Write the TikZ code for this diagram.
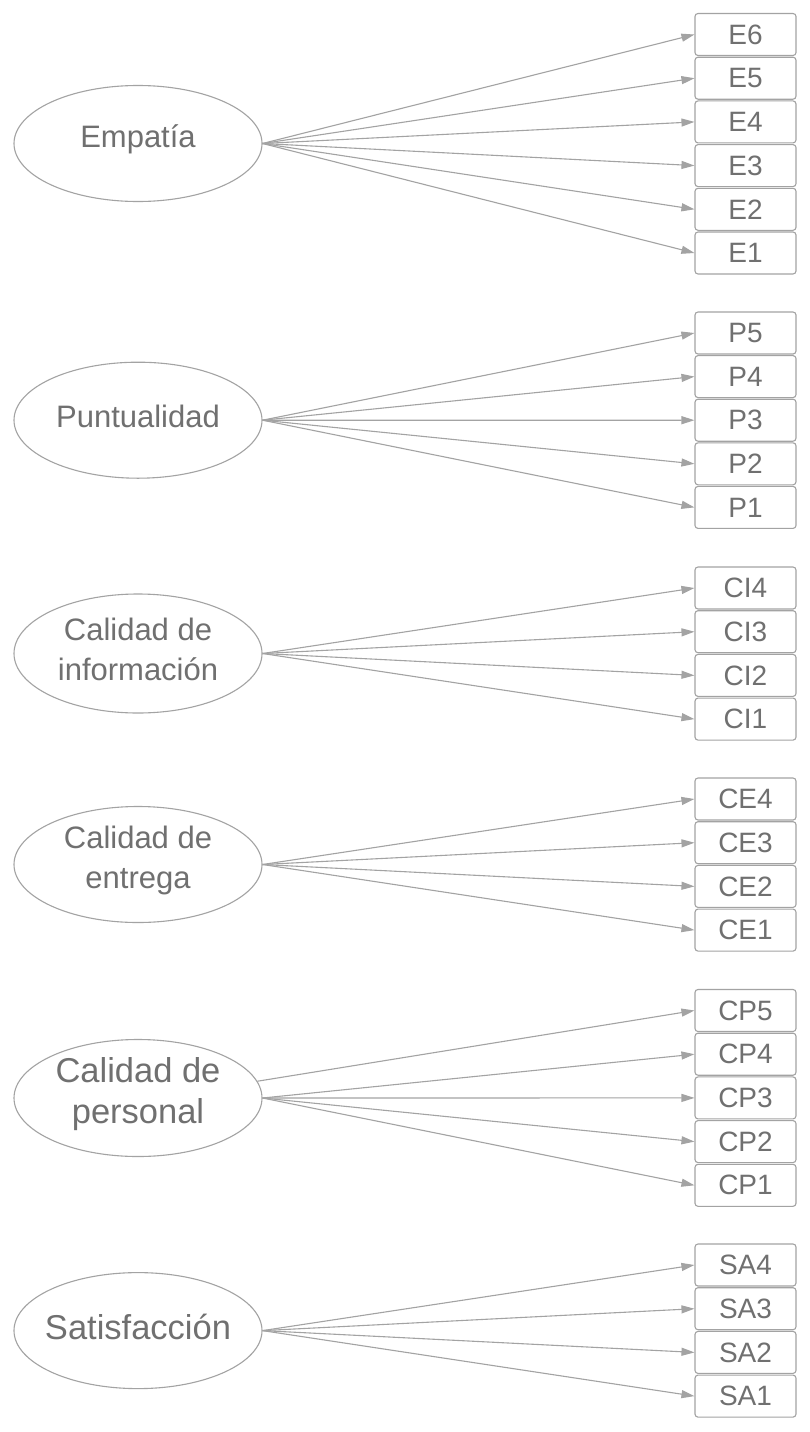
\documentclass[tikz,border=0pt]{standalone}
\usepackage{fontspec}
\setmainfont{Liberation Sans}
\usetikzlibrary{shapes.geometric,arrows.meta}
\definecolor{txt}{HTML}{707070}
\definecolor{ln}{HTML}{A3A3A3}
\begin{document}
\begin{tikzpicture}[x=1pt,y=-1pt,
  latent/.style={ellipse,draw=ln,line width=1.1pt,minimum width=248pt,minimum height=116pt,inner sep=0pt},
  lattext/.style={text=txt,align=center,inner sep=0pt,font=\fontsize{31}{40}\selectfont},
  bigtext/.style={lattext,font=\fontsize{34.5}{41}\selectfont},
  ind/.style={rectangle,rounded corners=3pt,draw=ln,line width=1.1pt,minimum width=101pt,minimum height=42pt,inner sep=0pt,text=txt,font=\fontsize{28}{32}\selectfont},
  conn/.style={draw=ln,line width=1.1pt,-{Triangle[length=13pt,width=8pt]}}
]
\fill[white] (0,0) rectangle (810,1432);
\useasboundingbox (0,0) rectangle (810,1432);

% Empatia
\node[latent] (emp) at (138,143.5) {};
\node[lattext] (empt) at (138,139.5) {Empatía};
\foreach \n [count=\i from 0] in {E6,E5,E4,E3,E2,E1} {
  \node[ind] (\n) at (745.5,{34.5+43.7*\i}) {\n};
  \draw[conn] (emp.east) -- (\n.west);
}

% Puntualidad
\node[latent] (pun) at (138,420.2) {};
\node[lattext] (punt) at (138,416) {Puntualidad};
\foreach \n [count=\i from 0] in {P5,P4,P3,P2,P1} {
  \node[ind] (\n) at (745.5,{333+43.6*\i}) {\n};
  \draw[conn] (pun.east) -- (\n.west);
}

% Calidad de informacion
\node[latent,minimum height=119pt] (cin) at (138,653.5) {};
\node[lattext] (cint) at (138,649.5) {Calidad de\\información};
\foreach \n [count=\i from 0] in {CI4,CI3,CI2,CI1} {
  \node[ind] (\n) at (745.5,{588+43.7*\i}) {\n};
  \draw[conn] (cin.east) -- (\n.west);
}

% Calidad de entrega
\node[latent] (cen) at (138,864.5) {};
\node[lattext] (cent) at (138,860.5) {Calidad de\\entrega};
\foreach \n [count=\i from 0] in {CE4,CE3,CE2,CE1} {
  \node[ind] (\n) at (745.5,{799+43.7*\i}) {\n};
  \draw[conn] (cen.east) -- (\n.west);
}

% Calidad de personal
\node[latent,minimum height=117pt] (cpe) at (138,1098) {};
\node[bigtext] (cpet) at (138,1094) {Calidad de\\personal};
\node[ind] (CP5) at (745.5,1010.5) {CP5};
\draw[conn] (cpe.8) -- (CP5.west);
\foreach \n [count=\i from 1] in {CP4,CP3,CP2,CP1} {
  \node[ind] (\n) at (745.5,{1010.5+43.7*\i}) {\n};
  \draw[conn] (cpe.east) -- (\n.west);
}

% Satisfaccion
\node[latent] (sat) at (138,1330.6) {};
\node[bigtext] (satt) at (138,1326.6) {Satisfacción};
\foreach \n [count=\i from 0] in {SA4,SA3,SA2,SA1} {
  \node[ind] (\n) at (745.5,{1265+43.7*\i}) {\n};
  \draw[conn] (sat.east) -- (\n.west);
}
\end{tikzpicture}
\end{document}
